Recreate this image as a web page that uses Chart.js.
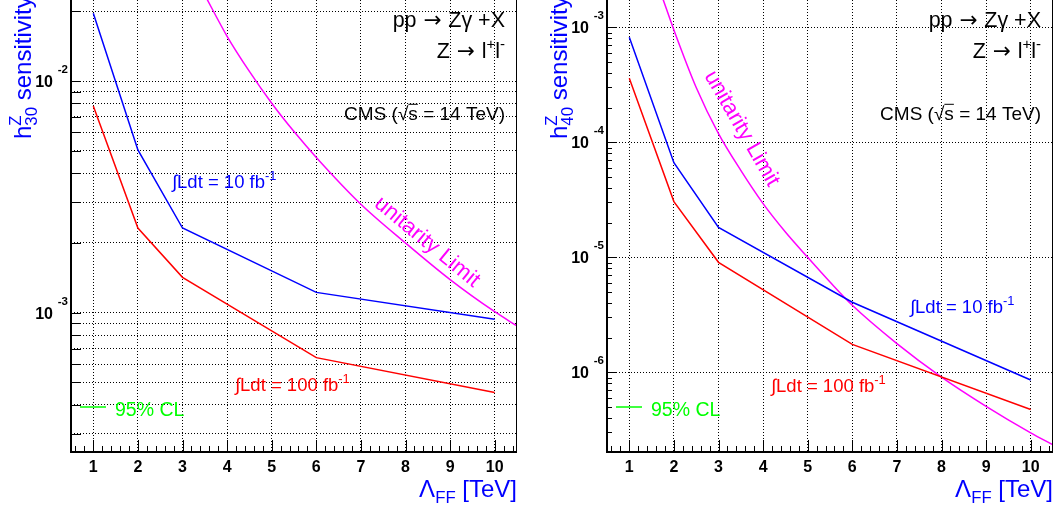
<!DOCTYPE html>
<html>
<head>
<meta charset="utf-8">
<script src="https://cdn.jsdelivr.net/npm/chart.js@4.4.1/dist/chart.umd.min.js"></script>
<style>
  html, body { margin: 0; padding: 0; background: #fff; }
  #wrap { position: relative; width: 1058px; height: 510px; overflow: hidden; }
  canvas { position: absolute; top: 0; }
</style>
</head>
<body>
<div id="wrap">
  <canvas id="h30" width="529" height="510" style="left:0"></canvas>
  <canvas id="h40" width="529" height="510" style="left:529px"></canvas>
</div>
<script>
// Lambda_FF [TeV] where the sensitivity was evaluated
const lambdaPoints = [1, 2, 3, 6, 10];

// h30^Z sensitivity
const h30Lumi10 = [0.0196, 5.04e-3, 2.32e-3, 1.224e-3, 9.37e-4];
const h30Lumi100 = [7.81e-3, 2.32e-3, 1.422e-3, 6.40e-4, 4.53e-4];
const h30UnitarityLambda = [3.5, 4, 4.5, 5, 5.5, 6, 7, 8, 9, 10, 10.5];
const h30Unitarity = [0.0235, 0.0156, 0.0110, 8.02e-3, 6.05e-3, 4.68e-3, 2.94e-3, 2.0e-3, 1.39e-3, 1.01e-3, 8.77e-4];

// h40^Z sensitivity
const h40Lumi10 = [8.18e-4, 6.65e-5, 1.82e-5, 4.07e-6, 8.57e-7];
const h40Lumi100 = [3.6e-4, 3.05e-5, 9.05e-6, 1.75e-6, 4.76e-7];
const h40UnitarityLambda = [1.75, 2, 2.5, 3, 3.5, 4, 4.5, 5, 5.5, 6, 7, 8, 9, 10, 10.5];
const h40Unitarity = [1.78e-3, 9.48e-4, 3.0e-4, 1.19e-4, 5.7e-5, 2.93e-5, 1.66e-5, 1.0e-5, 6.1e-6, 3.83e-6, 1.78e-6, 9.1e-7, 5.07e-7, 2.98e-7, 2.34e-7];

// axes
const xTickValues = [1, 2, 3, 4, 5, 6, 7, 8, 9, 10];
const h30Range = [2.506e-4, 0.02237];
const h40Range = [2.03e-7, 1.727e-3];
const h30Decades = [1e-3, 1e-2];
const h40Decades = [1e-6, 1e-5, 1e-4, 1e-3];

const FONT = '"Liberation Sans", Arial, Helvetica, sans-serif';
const BLUE = '#0000ff', RED = '#ff0000', MAGENTA = '#ff00ff', GREEN = '#00ff00';

function logTicks(range) {
  const out = [];
  for (let e = -8; e <= 0; e++) {
    for (let m = 1; m <= 9; m++) {
      const v = m * Math.pow(10, e);
      if (v >= range[0] && v <= range[1]) out.push(v);
    }
  }
  return out;
}

// draw text with ROOT-like sub/superscripts
function rich(ctx, parts, x, y, o) {
  const size = o.size, w = o.weight || 'normal', sm = size * 0.7;
  const f = (s, fam) => w + ' ' + s + 'px ' + (fam || FONT);
  ctx.save();
  ctx.fillStyle = o.color;
  ctx.strokeStyle = o.color;
  ctx.textAlign = 'left';
  ctx.textBaseline = 'alphabetic';
  const items = parts.map(p => {
    if (typeof p === 'string') p = { t: p };
    let wd;
    if (p.t !== undefined) { ctx.font = f(size, p.font); wd = ctx.measureText(p.t).width; }
    else {
      ctx.font = f(sm);
      wd = Math.max(ctx.measureText(p.sup || '').width, ctx.measureText(p.sub || '').width);
    }
    return { p, wd };
  });
  const total = items.reduce((a, i) => a + i.wd, 0);
  let cx = o.align === 'right' ? x - total : o.align === 'center' ? x - total / 2 : x;
  items.forEach(({ p, wd }) => {
    if (p.t !== undefined) {
      ctx.font = f(size, p.font);
      ctx.fillText(p.t, cx, y);
      if (p.over) {
        ctx.lineWidth = 1;
        ctx.beginPath();
        ctx.moveTo(cx, y - size * 0.8);
        ctx.lineTo(cx + wd, y - size * 0.8);
        ctx.stroke();
      }
    } else {
      ctx.font = f(sm);
      if (p.sup) ctx.fillText(p.sup, cx, y - size * 0.42);
      if (p.sub) ctx.fillText(p.sub, cx, y + size * 0.24);
    }
    cx += wd;
  });
  ctx.restore();
}

const ARROW = { t: ' \u2192 ', font: '"DejaVu Sans", sans-serif' };

function makePanel(id, p) {
  const rootStyle = {
    id: 'rootStyle',
    afterDraw(chart) {
      const ctx = chart.ctx;
      const a = chart.chartArea;
      const xs = chart.scales.x, ys = chart.scales.y;
      ctx.save();
      ctx.strokeStyle = '#000';
      // frame
      ctx.lineWidth = 2;
      ctx.beginPath();
      ctx.moveTo(a.left, a.top);
      ctx.lineTo(a.left, a.bottom);
      ctx.lineTo(a.right, a.bottom);
      ctx.stroke();
      ctx.lineWidth = 1;
      ctx.beginPath();
      ctx.moveTo(a.right - 0.5, a.top);
      ctx.lineTo(a.right - 0.5, a.bottom);
      ctx.stroke();
      // x ticks (inward)
      ctx.beginPath();
      for (let i = 3; i <= 52; i++) {
        const v = i * 0.2;
        const px = Math.round(xs.getPixelForValue(v)) + 0.5;
        const len = (i % 5 === 0) ? 12 : 6;
        ctx.moveTo(px, a.bottom);
        ctx.lineTo(px, a.bottom - len);
      }
      // y ticks (inward)
      logTicks(p.range).forEach(v => {
        const py = Math.round(ys.getPixelForValue(v)) + 0.5;
        const major = p.decades.some(d => Math.abs(d - v) / d < 1e-6);
        const len = major ? 10 : p.minorLen;
        ctx.moveTo(a.left, py);
        ctx.lineTo(a.left + len, py);
      });
      ctx.stroke();
      ctx.restore();

      // x labels
      ctx.save();
      ctx.fillStyle = '#000';
      ctx.font = 'bold 16px ' + FONT;
      ctx.textAlign = 'center';
      ctx.textBaseline = 'alphabetic';
      xTickValues.forEach(v => ctx.fillText(String(v), xs.getPixelForValue(v), a.bottom + 20));
      ctx.restore();
      // y labels 10^n
      p.decades.forEach(v => {
        const py = ys.getPixelForValue(v);
        const e = Math.round(Math.log10(v));
        rich(ctx, ['10'], a.left - 18, py + 6, { size: 16, weight: 'bold', color: '#000', align: 'right' });
        rich(ctx, [String(e)], a.left - 3, py - 8, { size: 11.5, weight: 'bold', color: '#000', align: 'right' });
      });

      // axis titles
      ctx.save();
      ctx.translate(a.left - 40, 139);
      ctx.rotate(-Math.PI / 2);
      rich(ctx, ['h', { sup: 'Z', sub: p.index }, ' sensitivity'], 0, 0, { size: 24, color: BLUE, align: 'left' });
      ctx.restore();
      rich(ctx, ['\u039B', { sub: 'FF' }, ' [TeV]'], a.right, 497, { size: 24, color: BLUE, align: 'right' });

      // annotations
      const tx = a.right - 12;
      rich(ctx, ['pp', ARROW, 'Z\u03B3 +X'], tx, 27, { size: 21.5, color: '#000', align: 'right' });
      rich(ctx, ['Z', ARROW, 'l', { sup: '+' }, 'l', { sup: '-' }], tx, 58, { size: 21.5, color: '#000', align: 'right' });
      rich(ctx, ['CMS (\u221A', { t: 's', over: true }, ' = 14 TeV)'], tx, 119.5, { size: 19, color: '#000', align: 'right' });
      rich(ctx, ['\u222BLdt = 10 fb', { sup: '-1' }], p.lumi10[0], p.lumi10[1], { size: 18.5, color: BLUE, align: 'left' });
      rich(ctx, ['\u222BLdt = 100 fb', { sup: '-1' }], p.lumi100[0], p.lumi100[1], { size: 18.5, color: RED, align: 'left' });

      ctx.save();
      ctx.strokeStyle = GREEN;
      ctx.lineWidth = 1.5;
      ctx.beginPath();
      ctx.moveTo(a.left + 9, 407);
      ctx.lineTo(a.left + 35, 407);
      ctx.stroke();
      ctx.restore();
      rich(ctx, ['95% CL'], a.left + 44, 416, { size: 19.5, color: GREEN, align: 'left' });

      ctx.save();
      ctx.translate(p.unit[0], p.unit[1]);
      ctx.rotate(p.unit[2] * Math.PI / 180);
      rich(ctx, ['unitarity Limit'], 0, 7.5, { size: 22, color: MAGENTA, align: 'center' });
      ctx.restore();
    }
  };

  return new Chart(document.getElementById(id), {
    type: 'line',
    data: {
      datasets: [
        {
          data: lambdaPoints.map((x, i) => ({ x, y: p.lumi10Data[i] })),
          borderColor: BLUE, borderWidth: 1.5, pointRadius: 0, tension: 0
        },
        {
          data: lambdaPoints.map((x, i) => ({ x, y: p.lumi100Data[i] })),
          borderColor: RED, borderWidth: 1.5, pointRadius: 0, tension: 0
        },
        {
          data: p.unitLambda.map((x, i) => ({ x, y: p.unitData[i] })),
          borderColor: MAGENTA, borderWidth: 1.5, pointRadius: 0,
          cubicInterpolationMode: 'monotone'
        }
      ]
    },
    options: {
      responsive: false,
      animation: false,
      layout: { padding: { left: p.padLeft, right: p.padRight, top: 0, bottom: 58 } },
      plugins: { legend: { display: false }, tooltip: { enabled: false } },
      scales: {
        x: {
          type: 'linear', min: 0.5, max: 10.5,
          afterBuildTicks: s => { s.ticks = xTickValues.map(v => ({ value: v })); },
          afterFit: s => { s.height = 0; },
          ticks: { display: false },
          grid: { color: '#000', lineWidth: 1, drawTicks: false },
          border: { display: false, dash: [1, 2] }
        },
        y: {
          type: 'logarithmic', min: p.range[0], max: p.range[1],
          afterBuildTicks: s => { s.ticks = p.grid.map(v => ({ value: v })); },
          afterFit: s => { s.width = 0; },
          ticks: { display: false },
          grid: { color: '#000', lineWidth: 1, drawTicks: false },
          border: { display: false, dash: [1, 2] }
        }
      }
    },
    plugins: [rootStyle]
  });
}

makePanel('h30', {
  index: '30',
  range: h30Range,
  decades: h30Decades,
  grid: logTicks(h30Range),
  minorLen: 10,
  padLeft: 71, padRight: 12,
  lumi10Data: h30Lumi10, lumi100Data: h30Lumi100,
  unitLambda: h30UnitarityLambda, unitData: h30Unitarity,
  lumi10: [172, 188], lumi100: [235, 391],
  unit: [428, 241, 39.5]
});

makePanel('h40', {
  index: '40',
  range: h40Range,
  decades: h40Decades,
  grid: h40Decades,
  minorLen: 5,
  padLeft: 78, padRight: 5,
  lumi10Data: h40Lumi10, lumi100Data: h40Lumi100,
  unitLambda: h40UnitarityLambda, unitData: h40Unitarity,
  lumi10: [381, 313], lumi100: [242, 392],
  unit: [214, 128, 60]
});
</script>
</body>
</html>
